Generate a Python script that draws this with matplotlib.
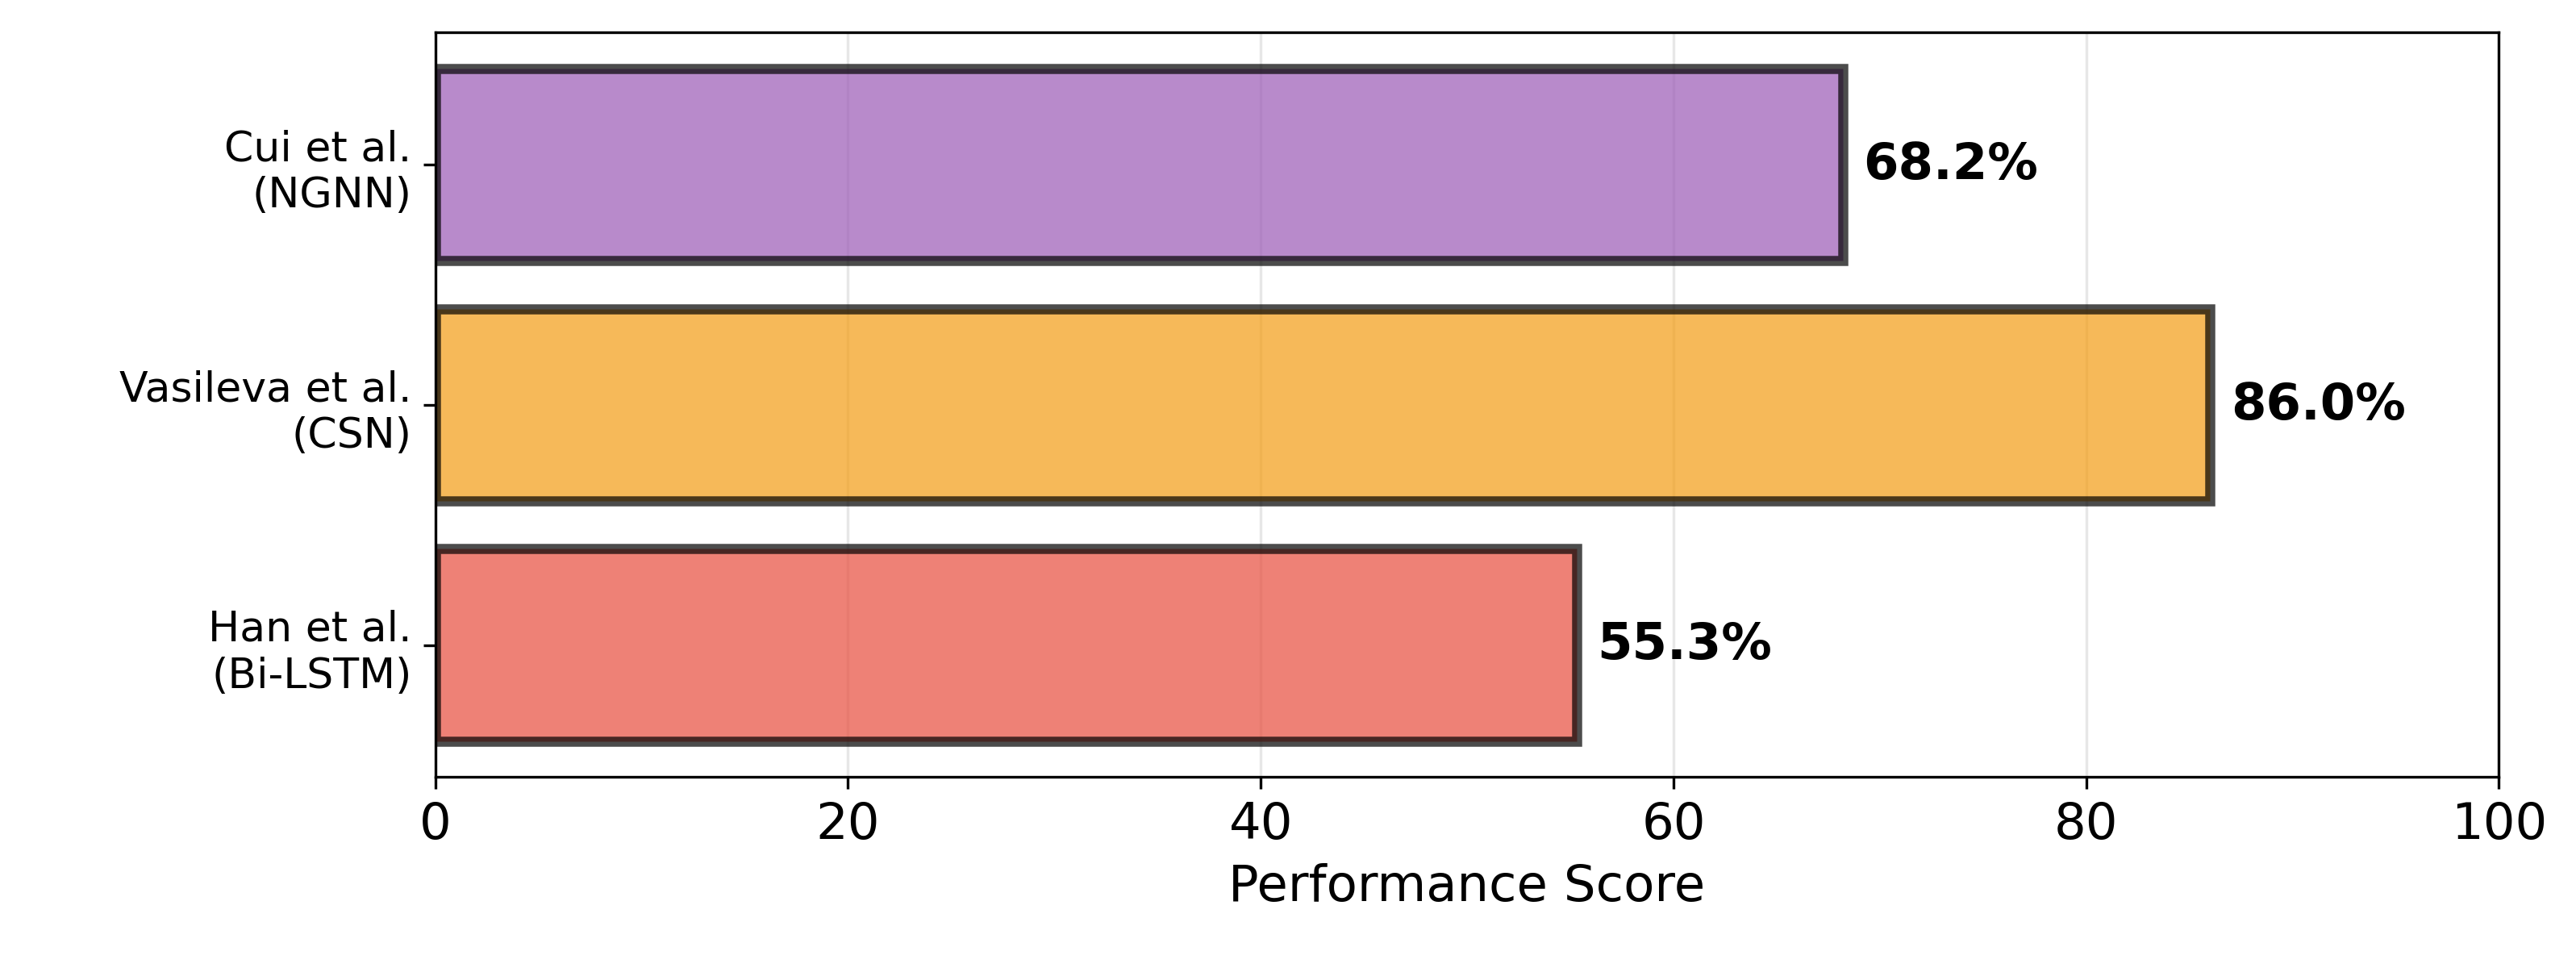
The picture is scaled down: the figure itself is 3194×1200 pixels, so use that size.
import matplotlib.pyplot as plt

methods = ["Cui et al.\n(NGNN)", "Vasileva et al.\n(CSN)", "Han et al.\n(Bi-LSTM)"]
scores = [68.2, 86.0, 55.3]
colors = ["#9b59b6", "#f39c12", "#e74c3c"]

fig = plt.figure(figsize=(10.647, 4.003), dpi=300)
ax = fig.add_axes([0.169, 0.197, 0.801, 0.769])
ypos = list(range(len(methods)))[::-1]
bars = ax.barh(ypos, scores, height=0.8, color=colors, alpha=0.7,
               edgecolor="black", linewidth=3)
for b, s in zip(bars, scores):
    ax.text(s + 1, b.get_y() + b.get_height() / 2, f"{s:.1f}%",
            va="center", ha="left", fontsize=15, fontweight="bold")
ax.set_yticks(ypos)
ax.set_yticklabels(methods, fontsize=12.5)
ax.set_xlim(0, 100)
ax.set_ylim(-0.55, 2.55)
ax.tick_params(axis="x", labelsize=15)
ax.set_xlabel("Performance Score", fontsize=15)
ax.grid(axis="x", alpha=0.3)
ax.set_axisbelow(True)
fig.savefig("out.png", dpi=300)
